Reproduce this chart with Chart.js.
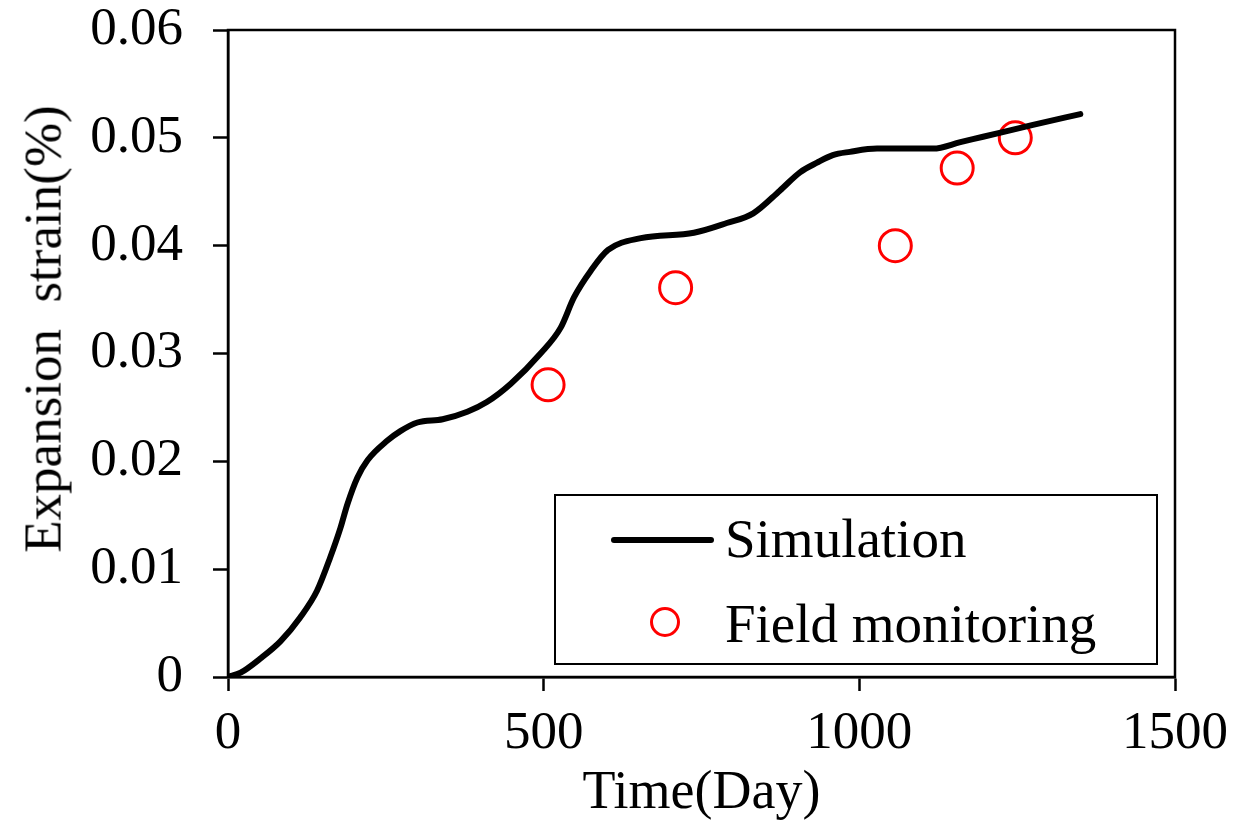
<!DOCTYPE html>
<html>
<head>
<meta charset="utf-8">
<script src="https://cdn.jsdelivr.net/npm/chart.js@4/dist/chart.umd.min.js"></script>
<style>
  html, body { margin: 0; padding: 0; background: #fff; }
  #wrap { position: relative; width: 1238px; height: 826px; }
  #ytitle {
    position: absolute; left: 43px; top: 329px; transform: translate(-50%, -50%) rotate(-90deg);
    font-family: "Liberation Serif", "Times New Roman", serif; font-size: 53px; line-height: 53px;
    white-space: pre; color: #000;
  }
  #legend {
    position: absolute; left: 554px; top: 494px; width: 600px; height: 167px;
    border: 2.5px solid #000; background: #fff; box-sizing: content-box;
    font-family: "Liberation Serif", "Times New Roman", serif; font-size: 55px; color: #000;
  }
  #legend .txt { position: absolute; left: 169px; line-height: 55px; white-space: nowrap; }
  #legend .line { position: absolute; left: 55px; top: 41px; width: 103px; height: 6px; background: #000; border-radius: 3px; }
  #legend .dot { position: absolute; left: 94px; top: 111px; width: 24px; height: 24px; border: 3px solid #f00; border-radius: 50%; }
</style>
</head>
<body>
<div id="wrap">
  <canvas id="chart" width="1238" height="826"></canvas>
  <div id="ytitle">Expansion  strain(%)</div>
  <div id="legend">
    <div class="line"></div>
    <div class="txt" style="top:15px">Simulation</div>
    <div class="dot"></div>
    <div class="txt" style="top:100px">Field monitoring</div>
  </div>
</div>
<script>
// simulated expansion strain
const simDays = [0, 20, 51, 83, 114, 141, 162, 178, 189, 205, 221, 252, 273, 300, 340, 379, 410, 448, 495, 527, 548, 575, 602, 654, 738, 790, 832, 874, 906, 933, 958, 985, 1028, 1117, 1160, 1196, 1275, 1350];
const simStrain = [0, 0.0004, 0.0017, 0.0033, 0.0055, 0.0080, 0.0111, 0.0138, 0.0160, 0.0185, 0.0201, 0.0219, 0.0228, 0.0236, 0.0239, 0.0246, 0.0255, 0.0272, 0.0300, 0.0324, 0.0352, 0.0377, 0.0396, 0.0407, 0.0412, 0.0421, 0.0430, 0.0451, 0.0468, 0.0477, 0.0484, 0.0487, 0.0490, 0.0490, 0.0496, 0.0501, 0.0512, 0.0522];

// field monitoring
const fieldDays = [507, 709, 1057, 1155, 1247];
const fieldStrain = [0.0271, 0.0361, 0.0400, 0.0472, 0.0500];

const xTicks = [0, 500, 1000, 1500];
const yTicks = [0, 0.01, 0.02, 0.03, 0.04, 0.05, 0.06];

const serif = '"Liberation Serif", "Times New Roman", serif';

const frame = {
  id: 'frame',
  afterDraw(chart) {
    const { ctx, chartArea: a } = chart;
    ctx.save();
    ctx.strokeStyle = '#000';
    ctx.lineWidth = 2.5;
    ctx.strokeRect(a.left, a.top, a.right - a.left, a.bottom - a.top);
    ctx.restore();
  }
};

new Chart(document.getElementById('chart'), {
  type: 'line',
  data: {
    datasets: [
      {
        label: 'Simulation',
        data: simDays.map((d, i) => ({ x: d, y: simStrain[i] })),
        borderColor: '#000',
        borderWidth: 6,
        pointRadius: 0,
        cubicInterpolationMode: 'monotone',
        borderCapStyle: 'round',
        fill: false
      },
      {
        type: 'scatter',
        label: 'Field monitoring',
        data: fieldDays.map((d, i) => ({ x: d, y: fieldStrain[i] })),
        borderColor: '#f00',
        backgroundColor: 'rgba(0,0,0,0)',
        borderWidth: 3,
        pointRadius: 16,
        pointHoverRadius: 16
      }
    ]
  },
  options: {
    responsive: false,
    animation: false,
    devicePixelRatio: 1,
    layout: { padding: { left: 0, top: 30, right: 63, bottom: 0 } },
    plugins: { legend: { display: false }, tooltip: { enabled: false } },
    scales: {
      x: {
        type: 'linear',
        min: 0,
        max: 1500,
        afterBuildTicks: s => { s.ticks = xTicks.map(v => ({ value: v })); },
        afterFit: s => { s.height = 149; s.paddingLeft = 0; s.paddingRight = 0; },
        grid: { drawOnChartArea: false, drawTicks: true, tickLength: 14, tickWidth: 2.5, tickColor: '#000' },
        border: { color: '#000', width: 2.5 },
        ticks: { color: '#000', padding: 17, maxRotation: 0, font: { family: serif, size: 53, lineHeight: 1 }, callback: v => String(v) },
        title: { display: true, text: 'Time(Day)', color: '#000', padding: { top: 0, bottom: 0 }, font: { family: serif, size: 54 } }
      },
      y: {
        min: 0,
        max: 0.06,
        afterBuildTicks: s => { s.ticks = yTicks.map(v => ({ value: v })); },
        afterFit: s => { s.width = 228; s.paddingTop = 0; s.paddingBottom = 0; },
        grid: { drawOnChartArea: false, drawTicks: true, tickLength: 15, tickWidth: 2.5, tickColor: '#000' },
        border: { color: '#000', width: 2.5 },
        ticks: {
          color: '#000', padding: 30,
          font: { family: serif, size: 53, lineHeight: 1 },
          callback: v => v === 0 ? '0' : v.toFixed(2)
        }
      }
    }
  },
  plugins: [frame]
});
</script>
</body>
</html>
